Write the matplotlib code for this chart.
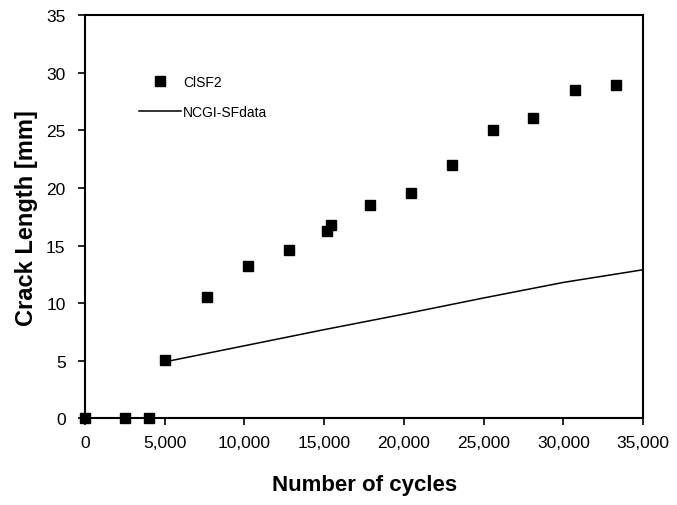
import matplotlib.pyplot as plt
import matplotlib.ticker as ticker

plt.rcParams['font.family'] = ['Liberation Sans', 'DejaVu Sans']

# measured points (CISF2)
cycles = [0, 2500, 4000, 5000, 7650, 10230, 12800, 15200, 15400, 17900,
          20450, 23000, 25600, 28100, 30700, 33300]
crack = [0, 0, 0, 5.1, 10.5, 13.2, 14.6, 16.3, 16.8, 18.5,
         19.6, 22.0, 25.0, 26.1, 28.5, 28.9]

# NCGI-SF prediction
pred_cycles = [5000, 10000, 15000, 20000, 25000, 30000, 35000]
pred_crack = [4.9, 6.3, 7.7, 9.05, 10.45, 11.8, 12.9]

fig = plt.figure(figsize=(6.77, 5.06), dpi=100)
ax = fig.add_axes([0.1256, 0.1713, 0.8244, 0.7967])

ax.plot(cycles, crack, 's', color='black', markersize=7.3, label='ClSF2',
        clip_on=False, zorder=3)
ax.plot(pred_cycles, pred_crack, '-', color='black', linewidth=1.1,
        label='NCGI-SFdata')

ax.set_xlim(0, 35000)
ax.set_ylim(0, 35)
ax.xaxis.set_major_locator(ticker.MultipleLocator(5000))
ax.yaxis.set_major_locator(ticker.MultipleLocator(5))
ax.xaxis.set_major_formatter(ticker.FuncFormatter(lambda v, p: f'{int(v):,}'))

ax.tick_params(axis='both', labelsize=12.5, length=5, width=1.2,
               direction='out', pad=7)
ax.tick_params(axis='y', pad=9)
for s in ax.spines.values():
    s.set_linewidth(1.5)

ax.set_xlabel('Number of cycles', fontsize=16, fontweight='bold', labelpad=17)
ax.set_ylabel('Crack Length [mm]', fontsize=17, fontweight='bold', labelpad=6)

ax.legend(loc='upper left', bbox_to_anchor=(0.085, 0.87), frameon=False,
          fontsize=10, handlelength=3.0, handletextpad=0.15, labelspacing=1.2,
          borderpad=0)

fig.savefig('out.png', dpi=100)
